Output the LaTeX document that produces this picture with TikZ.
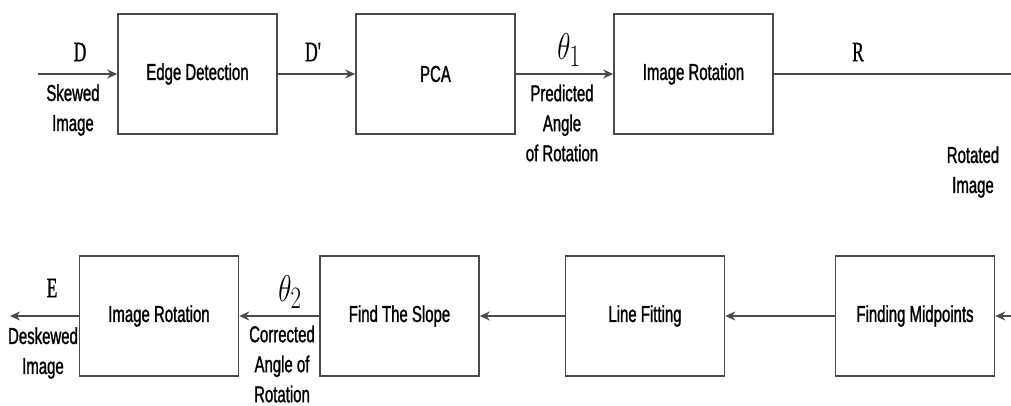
\documentclass[tikz,border=0pt]{standalone}
\usepackage{fontspec}
\setmainfont{Liberation Sans}[FakeStretch=0.65, FakeBold=1.2]
\newfontfamily\varfont{Liberation Serif}[FakeStretch=0.63, FakeBold=0.8]
\usetikzlibrary{arrows.meta}
\definecolor{edge}{HTML}{4A4A4A}
\tikzset{
  block/.style={draw=edge, line width=1.6pt, minimum width=159pt, minimum height=120pt,
    inner sep=0pt, font=\fontsize{23}{30}\selectfont},
  flow/.style={draw=edge, line width=1.9pt, -{Stealth[length=10pt,width=9pt]}},
  wire/.style={draw=edge, line width=1.9pt},
  note/.style={align=center, inner sep=0pt, font=\fontsize{23}{30}\selectfont},
  sym/.style={inner sep=0pt, font=\varfont\fontsize{28}{30}\selectfont},
}
% angle symbols, enlarged from the largest fixed math size
\newcommand{\angsym}[1]{\scalebox{1.1}[1.5]{\fontsize{24.88}{26}\selectfont$\theta_{#1}$}}
\begin{document}
\begin{tikzpicture}[x=1pt, y=-1pt]
\useasboundingbox (0,0) rectangle (1011,405);

% upper chain
\node[block] (edge) at (197.5,74) {Edge Detection};
\node[block] (pca)  at (435.5,74) {PCA};
\node[block] (rot1) at (693.5,74) {Image Rotation};
\coordinate (in)   at (38,74);
\coordinate (rout) at (1011,74);

% lower chain
\node[block] (mid)   at (915,316)   {Finding Midpoints};
\node[block] (fit)   at (645,316)   {Line Fitting};
\node[block] (slope) at (399.5,316) {Find The Slope};
\node[block] (rot2)  at (159,316)   {Image Rotation};
\coordinate (rin) at (1011,316);
\coordinate (out) at (10,316);

% connectors
\draw[flow] (in) -- (edge);
\draw[flow] (edge) -- (pca);
\draw[flow] (pca) -- (rot1);
\draw[wire] (rot1) -- (rout);
\draw[flow] (rin) -- (mid);
\draw[flow] (mid) -- (fit);
\draw[flow] (fit) -- (slope);
\draw[flow] (slope) -- (rot2);
\draw[flow] (rot2) -- (out);

% signal names
\node[sym] (sD)  at (80,52)  {D};
\node[sym] (sD2) at (313,52) {D'};
\node[sym] (sR)  at (858,52) {R};
\node[sym] (sE)  at (52,288) {E};
\node[inner sep=0pt] (t1) at (569,50)  {\angsym{1}};
\node[inner sep=0pt] (t2) at (290,292) {\angsym{2}};

% signal descriptions
\node[note] (skew) at (73,110)  {Skewed\\Image};
\node[note] (pred) at (562,123) {Predicted\\Angle\\of Rotation};
\node[note] (rotd) at (973,172) {Rotated\\Image};
\node[note] (desk) at (43,353)  {Deskewed\\Image};
\node[note] (corr) at (282,364) {Corrected\\Angle of\\Rotation};
\end{tikzpicture}
\end{document}
